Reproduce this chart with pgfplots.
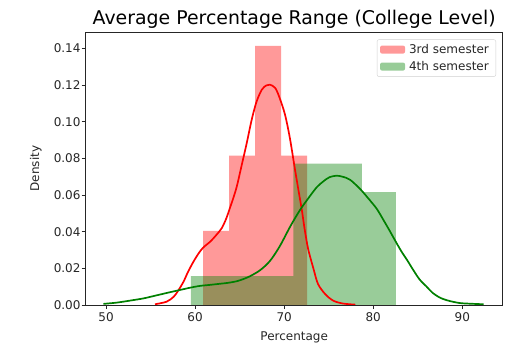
\documentclass[border=0pt]{standalone}
\usepackage{fontspec}
\setmainfont{DejaVu Sans}
\usepackage{pgfplots}
\pgfplotsset{compat=1.18}
\definecolor{mplred}{RGB}{255,0,0}
\definecolor{mplgreen}{RGB}{0,128,0}
\definecolor{txt}{RGB}{38,38,38}
\begin{document}
\begin{tikzpicture}
\path[use as bounding box] (0,0) rectangle (522bp,351bp);
\begin{axis}[
  at={(85.7bp,46bp)}, anchor=south west,
  scale only axis, width=417bp, height=272.7bp,
  xmin=47.72, xmax=94.54, ymin=0, ymax=0.1489,
  xtick={50,60,70,80,90},
  ytick={0,0.02,0.04,0.06,0.08,0.10,0.12,0.14},
  yticklabel style={/tikz/xshift=2.5bp, /pgf/number format/.cd, fixed, fixed zerofill, precision=2},
  /pgf/number format/assume math mode=true,
  tick label style={font=\fontsize{12bp}{14bp}\selectfont, text=txt},
  tick pos=left, tick align=outside,
  major tick length=4.2bp,
  tick style={line width=0.9bp, black!85},
  axis line style={line width=0.9bp, black!85},
  title={Average Percentage Range (College Level)},
  title style={font=\fontsize{18.9bp}{21bp}\selectfont, text=black, at={(axis description cs:0.5,1.025)}, anchor=center},
  xlabel={Percentage},
  xlabel style={font=\fontsize{12bp}{14bp}\selectfont, text=txt, at={(axis description cs:0.5,-0.1173)}, anchor=center},
  ylabel={Density},
  ylabel style={font=\fontsize{12bp}{14bp}\selectfont, text=txt, at={(axis description cs:-0.1199,0.5)}, anchor=center, rotate=0},
  legend cell align=left,
  legend style={at={(axis description cs:0.984,0.974)}, anchor=north east,
    draw=black!18, rounded corners=2bp, fill=white, fill opacity=0.8, text opacity=1,
    font=\fontsize{12bp}{14bp}\selectfont, text=txt,
    inner xsep=3bp, inner ysep=1.5bp, row sep=0bp,
    nodes={inner ysep=3bp, inner xsep=4bp, text height=9bp, text depth=2bp}},
]
% 3rd semester histogram
\addplot[fill=mplred, fill opacity=0.4, draw=none, const plot,
  legend image code/.code={\fill[fill=mplred, fill opacity=0.4] (0bp,-4bp) rectangle (25bp,4bp);}]
  coordinates {(60.90,0.0405) (63.82,0.0815) (66.74,0.1415) (69.66,0.0815) (72.58,0.0815)} \closedcycle;
\addlegendentry{3rd semester}
% 4th semester histogram
\addplot[fill=mplgreen, fill opacity=0.4, draw=none, const plot,
  legend image code/.code={\fill[fill=mplgreen, fill opacity=0.4] (0bp,-4bp) rectangle (25bp,4bp);}]
  coordinates {(59.54,0.0157) (63.38,0.0157) (67.21,0.0157) (71.05,0.0772) (74.88,0.0772) (78.72,0.0616) (82.55,0.0616)} \closedcycle;
\addlegendentry{4th semester}
% 3rd semester KDE
\addplot[mplred, line width=1.7bp, smooth, forget plot] coordinates {
(55.5,0.0004) (56.8,0.0018) (57.6,0.0045) (58.1,0.0078) (58.7,0.0127) (59.2,0.0180)
(59.8,0.0235) (60.4,0.0282) (60.9,0.0313) (61.7,0.0346) (62.4,0.0383) (63.0,0.0420)
(63.5,0.0472) (63.9,0.0528) (64.3,0.0585) (64.7,0.0650) (65.2,0.0756) (65.8,0.0884)
(66.35,0.1010) (66.9,0.1110) (67.5,0.1176) (68.0,0.1199) (68.4,0.1203) (69.0,0.1185)
(69.5,0.1130) (70.1,0.1039) (70.65,0.0910) (71.2,0.0745) (71.6,0.0629) (72.0,0.0515)
(72.3,0.0415) (72.7,0.0305) (73.3,0.0197) (73.8,0.0115) (74.6,0.0060) (75.5,0.0024)
(76.6,0.0008) (78.0,0.0002)};
% 4th semester KDE
\addplot[mplgreen, line width=1.7bp, smooth, forget plot] coordinates {
(49.7,0.0006) (51.2,0.0013) (52.7,0.0024) (54.2,0.0036) (55.7,0.0053) (57.2,0.0070)
(58.3,0.0082) (59.4,0.0094) (60.5,0.0104) (61.7,0.0110) (62.8,0.0116) (63.7,0.0121)
(64.7,0.0130) (65.5,0.0143) (66.2,0.0158) (67.3,0.0190) (68.4,0.0240) (69.5,0.0320)
(70.7,0.0430) (71.8,0.0520) (72.9,0.0595) (73.7,0.0645) (74.4,0.0675) (75.1,0.0698)
(75.9,0.0706) (76.6,0.0700) (77.4,0.0684) (78.5,0.0635) (79.4,0.0585) (80.4,0.0525)
(81.2,0.0460) (81.9,0.0401) (82.6,0.0340) (83.2,0.0290) (83.8,0.0246) (84.5,0.0191)
(85.2,0.0140) (86.0,0.0100) (86.7,0.0065) (87.5,0.0040) (88.2,0.0027) (89.2,0.0015)
(90.1,0.0009) (92.4,0.0004)};
\end{axis}
\end{tikzpicture}
\end{document}
